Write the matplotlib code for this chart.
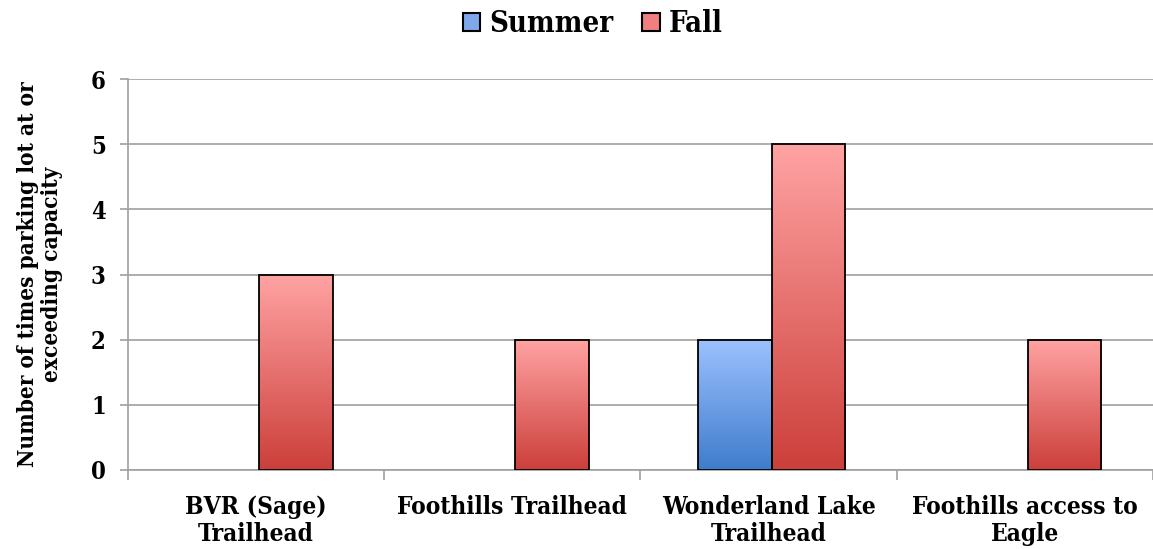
import numpy as np
import matplotlib
matplotlib.use('Agg')
import matplotlib.pyplot as plt
from matplotlib.colors import LinearSegmentedColormap
from matplotlib.patches import Patch

plt.rcParams['font.family'] = 'DejaVu Serif'
plt.rcParams['font.weight'] = 'bold'
plt.rcParams['font.stretch'] = 'condensed'

categories = ['BVR (Sage)\nTrailhead', 'Foothills Trailhead',
              'Wonderland Lake\nTrailhead', 'Foothills access to\nEagle']
summer = [0, 0, 2, 0]
fall = [3, 2, 5, 2]

summer_cmap = LinearSegmentedColormap.from_list('s', ['#3f7ccc', '#9cc1ff'])
fall_cmap = LinearSegmentedColormap.from_list('f', ['#cc3f3a', '#ffa3a3'])

fig = plt.figure(figsize=(11.53, 5.49), dpi=100)
ax = fig.add_axes([0.111, 0.144, 0.889, 0.712])

x = np.arange(len(categories))
w = 0.287
grad = np.linspace(0, 1, 256).reshape(-1, 1)

def gradient_bars(xs, vals, cmap):
    bars = ax.bar(xs, vals, w, facecolor='none', edgecolor='black', linewidth=1.3, zorder=3)
    for b, v in zip(bars, vals):
        if v <= 0:
            b.set_visible(False)
            continue
        x0 = b.get_x()
        im = ax.imshow(grad, cmap=cmap, origin='lower', aspect='auto',
                       extent=[x0, x0 + b.get_width(), 0, v], zorder=2)
        im.set_clip_path(b)
    return bars

gradient_bars(x - w / 2 + 0.012, summer, summer_cmap)
gradient_bars(x + w / 2 + 0.012, fall, fall_cmap)

ax.set_xlim(-0.5, len(categories) - 0.5)
ax.set_ylim(0, 6)
ax.set_yticks(range(7))
ax.yaxis.grid(True, color='#a0a0a0', linewidth=1.2)
ax.set_axisbelow(True)

ax.set_xticks(np.arange(len(categories) + 1) - 0.5)
ax.set_xticklabels([])
ax.set_xticks(x, categories, minor=True)
ax.tick_params(axis='x', which='minor', length=0, labelsize=17.6, pad=18)
ax.tick_params(axis='x', which='major', length=7, color='#a0a0a0', width=1.2)
ax.tick_params(axis='y', length=6, color='#a0a0a0', width=1.2, labelsize=17, pad=10)
for lab in ax.get_xticklabels(minor=True):
    lab.set_fontweight('bold')
    lab.set_linespacing(1.15)
for lab in ax.get_yticklabels():
    lab.set_fontweight('bold')

for s in ['top', 'right']:
    ax.spines[s].set_visible(False)
for s in ['left', 'bottom']:
    ax.spines[s].set_color('#a0a0a0')
    ax.spines[s].set_linewidth(1.2)

ax.set_ylabel('Number of times parking lot at or\nexceeding capacity', fontsize=16.2,
              fontweight='bold', labelpad=20, linespacing=1.15)

handles = [Patch(facecolor='#7fa8ea', edgecolor='black', linewidth=1.5, label='Summer'),
           Patch(facecolor='#f08080', edgecolor='black', linewidth=1.5, label='Fall')]
fig.legend(handles=handles, loc='upper center', bbox_to_anchor=(0.514, 1.031), ncol=2,
           frameon=False, prop={'size': 21, 'weight': 'bold', 'stretch': 'condensed'},
           handlelength=0.6, handleheight=0.6, handletextpad=0.3, columnspacing=1.0)

fig.savefig('out.png', dpi=100)
